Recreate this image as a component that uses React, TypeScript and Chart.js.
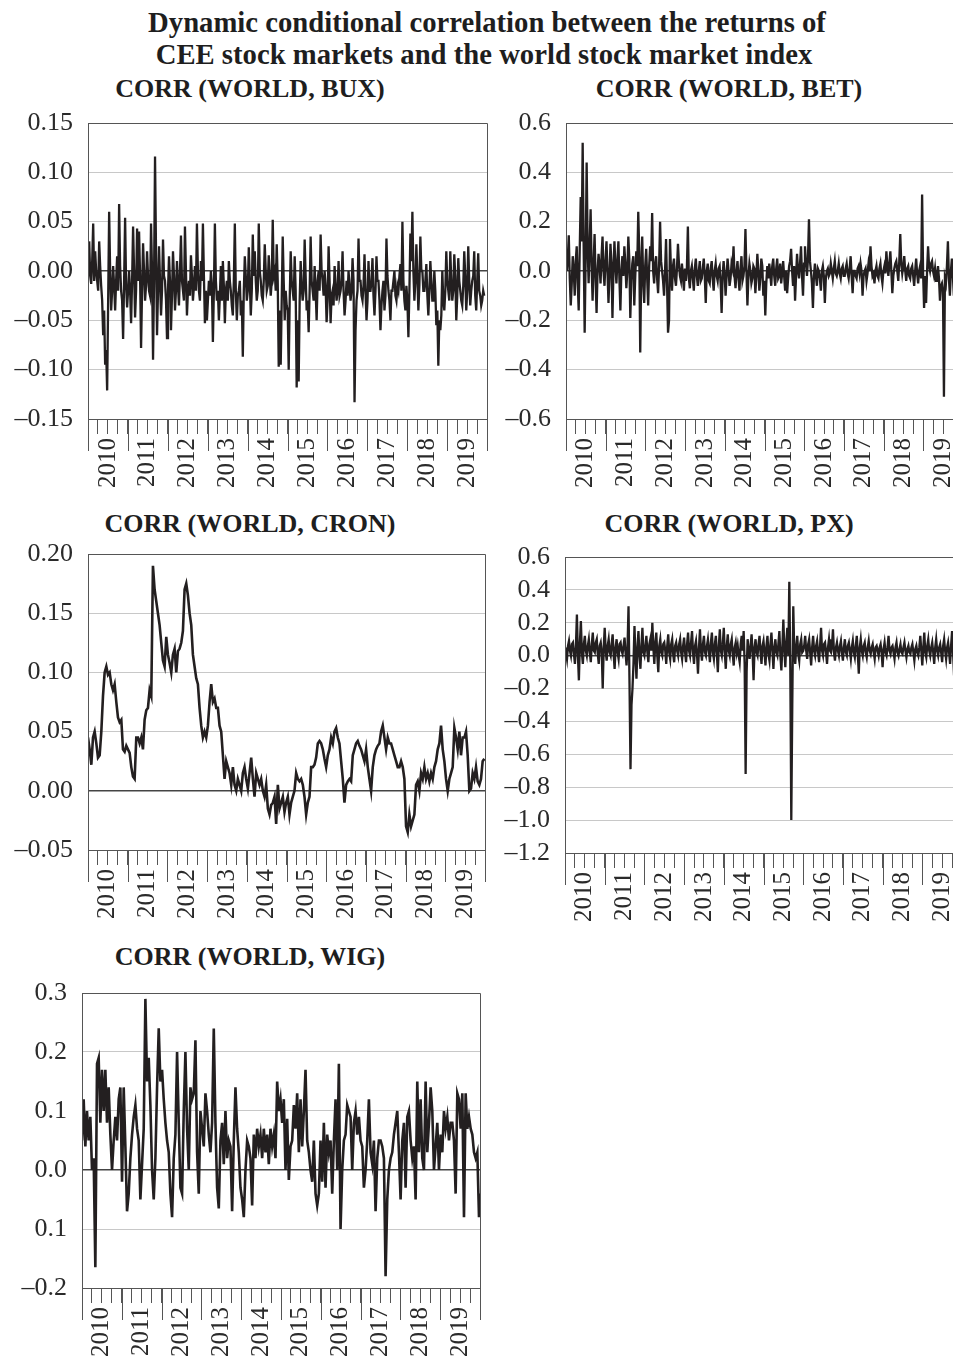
import React, { useEffect, useRef } from 'react';
import { Chart, registerables } from 'chart.js';

Chart.register(...registerables);

const FONT = '"Liberation Serif", "Times New Roman", serif';
const INK = '#231f20';
const TEXT = '#2a2a2a';
const AXIS = '#555555';
const GRID = '#c8c8c8';
const ZERO = '#444444';

// ---------------- data ----------------
const yearLabels = ['2010', '2011', '2012', '2013', '2014', '2015', '2016', '2017', '2018', '2019'];

// CORR (WORLD, BUX) – ~40 obs per year (one row per year)
const buxValues = [
  0.03, -0.005, -0.013, 0.01, 0.048, -0.01, 0.02, 0.0, -0.01, -0.02, 0.03, 0.005, -0.015, -0.03, -0.065, -0.04, -0.095, -0.08, -0.121, -0.03, 0.06, 0.0, -0.04, -0.02, 0.005, -0.015, -0.04, -0.01, 0.015, -0.02, 0.068, 0.005, -0.02, -0.03, -0.069, -0.01, 0.054, -0.015, -0.037, -0.02,
  0.0, -0.02, -0.053, -0.01, 0.045, 0.0, -0.047, -0.02, 0.043, -0.01, 0.04, -0.005, -0.078, -0.02, 0.028, 0.0, -0.03, -0.015, 0.02, -0.005, -0.02, -0.025, 0.048, 0.0, -0.09, -0.01, 0.116, 0.02, -0.065, -0.02, 0.025, -0.01, -0.045, -0.02, 0.032, -0.005, -0.01, -0.03, -0.068, -0.02,
  0.015, -0.01, -0.06, -0.025, 0.02, -0.005, -0.04, -0.02, 0.01, -0.015, -0.035, 0.0, 0.036, -0.01, -0.02, -0.03, 0.045, 0.0, -0.045, -0.02, -0.01, -0.025, 0.016, -0.005, -0.03, -0.015, 0.005, -0.02, 0.048, 0.0, -0.02, -0.03, 0.01, -0.01, 0.048, -0.005, -0.053, -0.02, -0.05, -0.03,
  -0.01, -0.025, 0.0, -0.015, -0.072, -0.02, 0.048, -0.01, -0.03, -0.02, -0.05, -0.025, 0.005, -0.03, 0.01, -0.015, -0.053, -0.02, -0.01, -0.03, 0.01, -0.01, -0.02, -0.035, -0.045, -0.01, 0.048, -0.02, -0.05, -0.025, -0.02, -0.01, -0.045, -0.03, -0.087, -0.02, 0.015, -0.005, -0.03, -0.02,
  0.024, -0.01, -0.045, -0.02, 0.037, -0.005, 0.02, -0.01, -0.03, -0.02, 0.048, 0.0, -0.01, -0.025, -0.03, -0.01, 0.027, 0.0, -0.02, -0.015, 0.016, -0.005, -0.025, -0.01, 0.052, -0.005, 0.0, -0.02, 0.027, -0.01, -0.097, -0.04, -0.095, -0.03, 0.035, -0.01, -0.05, -0.02, -0.035, -0.04,
  -0.1, -0.03, 0.02, -0.01, -0.02, -0.03, 0.015, -0.02, -0.118, -0.05, -0.112, -0.03, 0.01, -0.015, -0.03, -0.02, 0.032, -0.005, -0.04, -0.03, -0.062, -0.02, 0.035, -0.01, -0.02, -0.03, 0.005, -0.02, -0.05, -0.01, 0.0, -0.02, 0.037, 0.0, -0.01, -0.025, 0.0, -0.015, -0.052, -0.03,
  0.025, -0.01, -0.053, -0.025, -0.02, -0.035, 0.005, -0.015, -0.03, -0.02, 0.01, -0.025, -0.02, -0.01, 0.02, -0.02, -0.045, -0.03, -0.01, -0.025, 0.0, -0.015, -0.03, -0.02, 0.013, -0.01, -0.133, -0.06, -0.03, -0.02, 0.033, -0.01, -0.01, -0.025, -0.03, -0.015, 0.017, -0.02, -0.05, -0.03,
  0.01, -0.02, -0.02, -0.01, 0.013, -0.025, -0.045, -0.02, 0.015, -0.01, -0.01, -0.03, -0.06, -0.035, -0.02, -0.01, -0.04, -0.025, 0.033, -0.005, -0.02, -0.03, -0.05, -0.02, -0.02, -0.01, 0.0, -0.025, -0.03, -0.015, -0.02, -0.005, 0.007, -0.02, 0.05, -0.01, -0.03, -0.04, -0.015, -0.03,
  -0.067, -0.02, 0.038, 0.01, 0.06, 0.0, -0.03, -0.01, 0.027, -0.005, -0.04, -0.015, 0.035, 0.0, 0.0, -0.02, -0.02, -0.01, 0.007, -0.025, -0.045, -0.02, 0.01, -0.01, -0.03, -0.03, 0.0, -0.02, -0.055, -0.04, -0.096, -0.05, -0.06, -0.045, 0.0, -0.03, -0.04, -0.02, 0.02, -0.01,
  -0.02, -0.03, 0.02, -0.01, -0.03, -0.02, 0.017, -0.005, -0.05, -0.025, 0.013, -0.01, -0.02, -0.03, -0.035, -0.015, 0.02, -0.005, -0.04, -0.02, 0.025, -0.01, -0.035, -0.02, -0.01, -0.005, 0.02, -0.025, -0.04, -0.01, 0.018, -0.02, -0.025, -0.035, -0.03, -0.02, -0.025,
];

// CORR (WORLD, BET) – ~40 obs per year
const betValues = [
  0.0, 0.05, 0.145, -0.03, -0.14, -0.05, 0.06, 0.0, -0.1, 0.04, 0.1, -0.05, -0.16, 0.08, 0.3, 0.12, 0.52, 0.1, -0.25, 0.05, 0.44, 0.1, -0.05, 0.1, 0.25, 0.02, -0.12, 0.03, 0.15, -0.03, -0.17, 0.0, 0.07, 0.02, -0.05, 0.06, 0.14, 0.0, -0.06, 0.04,
  0.12, 0.0, -0.13, -0.02, 0.11, 0.03, -0.19, 0.0, 0.12, 0.02, -0.05, 0.04, 0.12, -0.03, -0.16, 0.0, 0.06, -0.02, 0.1, 0.03, -0.07, 0.0, 0.14, 0.05, -0.19, -0.04, 0.03, 0.06, -0.14, -0.02, 0.08, 0.02, 0.24, 0.08, -0.33, 0.0, 0.14, -0.05, -0.13, 0.02,
  0.09, -0.03, -0.14, 0.02, 0.1, 0.04, 0.235, 0.0, -0.05, 0.03, 0.06, -0.03, -0.09, 0.02, 0.2, 0.04, 0.0, -0.04, -0.1, 0.0, 0.13, -0.05, -0.25, -0.2, 0.13, 0.0, -0.08, 0.02, 0.05, -0.03, -0.06, 0.01, 0.11, 0.03, -0.02, -0.04, 0.03, -0.02, -0.08, 0.01,
  -0.04, 0.01, 0.18, -0.03, -0.07, 0.0, 0.02, -0.03, -0.08, 0.01, 0.05, -0.02, -0.06, 0.0, 0.04, -0.04, -0.03, 0.01, 0.05, -0.02, -0.13, 0.0, 0.03, -0.04, -0.05, 0.01, 0.04, -0.03, -0.08, 0.0, 0.03, -0.02, -0.04, 0.01, 0.02, -0.05, -0.17, -0.02, 0.04, -0.01,
  -0.1, -0.02, 0.05, 0.0, -0.06, -0.03, 0.03, 0.01, 0.1, -0.02, -0.07, 0.0, 0.04, -0.03, -0.08, 0.01, 0.06, -0.04, -0.02, 0.02, 0.17, 0.0, -0.14, -0.02, 0.03, 0.0, -0.05, -0.03, 0.02, 0.01, -0.09, -0.02, 0.07, 0.0, -0.08, -0.03, 0.05, 0.02, -0.1, -0.04,
  -0.18, -0.05, 0.02, -0.03, 0.03, -0.01, -0.06, 0.02, 0.05, -0.02, -0.06, 0.01, 0.05, -0.03, -0.02, 0.03, -0.05, -0.01, 0.04, -0.02, -0.08, 0.0, -0.09, -0.03, 0.02, 0.04, 0.09, 0.0, -0.06, 0.02, -0.12, -0.02, 0.07, 0.0, -0.03, 0.03, 0.1, -0.02, -0.1, 0.03,
  0.1, 0.03, -0.02, 0.05, 0.21, 0.04, 0.0, -0.05, -0.15, -0.02, 0.03, -0.02, -0.06, 0.01, 0.0, -0.03, -0.08, 0.0, 0.02, -0.02, -0.13, -0.03, 0.0, 0.01, -0.02, -0.01, 0.03, 0.0, -0.03, 0.01, 0.04, -0.01, -0.02, 0.0, 0.03, -0.01, -0.03, 0.01, 0.02, -0.02,
  -0.02, 0.01, 0.03, -0.01, -0.03, 0.01, 0.06, -0.02, -0.09, 0.0, 0.0, -0.02, -0.03, 0.01, 0.02, -0.01, 0.03, 0.0, -0.1, -0.02, 0.0, 0.01, -0.04, -0.01, 0.03, 0.0, 0.1, 0.02, -0.02, -0.01, -0.05, 0.0, 0.02, -0.02, -0.03, 0.01, 0.03, -0.02, -0.05, 0.0,
  0.02, -0.01, 0.08, 0.02, -0.02, 0.03, 0.08, 0.0, -0.09, -0.02, 0.01, 0.03, 0.04, 0.0, -0.04, 0.04, 0.15, 0.03, -0.01, 0.02, 0.06, 0.0, -0.04, 0.01, 0.02, -0.02, -0.03, 0.01, 0.02, -0.02, -0.06, 0.0, 0.05, -0.01, -0.05, 0.0, 0.02, -0.03, 0.31, -0.01,
  -0.15, -0.02, -0.13, 0.0, 0.1, 0.02, 0.0, 0.03, 0.04, 0.0, -0.02, 0.01, -0.04, -0.02, 0.02, -0.03, -0.12, -0.06, -0.05, -0.08, -0.51, -0.03, -0.05, 0.02, 0.12, -0.03, -0.1, 0.0, 0.05, -0.02, -0.1, 0.0, 0.04, -0.02, -0.08,
];

// CORR (WORLD, CRON) – ~24 obs per year
const cronValues = [
  0.045, 0.035, 0.022, 0.045, 0.05, 0.04, 0.028, 0.03, 0.05, 0.08, 0.1, 0.105, 0.098, 0.1, 0.09, 0.085, 0.09, 0.075, 0.062, 0.058,
  0.06, 0.035, 0.033, 0.038, 0.035, 0.032, 0.02, 0.012, 0.01, 0.045, 0.045, 0.04, 0.045, 0.035, 0.06, 0.068, 0.07, 0.085, 0.08, 0.19,
  0.17, 0.16, 0.15, 0.14, 0.125, 0.11, 0.105, 0.13, 0.115, 0.108, 0.1, 0.115, 0.12, 0.1, 0.118, 0.12, 0.125, 0.135, 0.17, 0.175,
  0.165, 0.15, 0.14, 0.115, 0.105, 0.095, 0.09, 0.07, 0.055, 0.045, 0.05, 0.045, 0.055, 0.075, 0.09, 0.075, 0.078, 0.07, 0.07, 0.055,
  0.05, 0.03, 0.01, 0.025, 0.02, 0.015, 0.005, 0.02, 0.005, 0.0, 0.01, 0.005, 0.0, 0.015, 0.02, 0.01, 0.002, 0.015, 0.028, 0.01,
  -0.005, 0.015, 0.01, 0.005, 0.01, 0.0, -0.005, 0.005, -0.015, -0.02, -0.012, -0.01, -0.005, -0.028, 0.005, -0.015, -0.01, -0.005, -0.018, -0.01,
  -0.005, -0.02, -0.01, -0.005, 0.0, 0.015, 0.01, 0.008, 0.01, 0.005, -0.005, -0.02, -0.01, -0.005, 0.02, 0.02, 0.022, 0.028, 0.04, 0.042,
  0.04, 0.035, 0.027, 0.02, 0.03, 0.035, 0.045, 0.04, 0.05, 0.053, 0.045, 0.04, 0.025, 0.01, -0.01, 0.005, 0.008, 0.01, 0.008, 0.03,
  0.035, 0.04, 0.042, 0.038, 0.035, 0.03, 0.025, 0.035, 0.02, 0.01, 0.0, 0.02, 0.03, 0.035, 0.038, 0.04, 0.05, 0.055, 0.045, 0.035,
  0.045, 0.04, 0.04, 0.035, 0.03, 0.025, 0.02, 0.02, 0.025, 0.02, 0.01, -0.03, -0.035, -0.02, -0.03, -0.025, -0.02, 0.005, 0.008, 0.0,
  0.015, 0.01, 0.02, 0.01, 0.015, 0.008, 0.015, 0.01, 0.02, 0.025, 0.035, 0.04, 0.055, 0.035, 0.025, 0.01, 0.0, 0.01, 0.015, 0.02,
  0.053, 0.045, 0.035, 0.05, 0.03, 0.045, 0.045, 0.05, 0.03, 0.0, 0.002, 0.015, 0.01, 0.02, 0.008, 0.005, 0.01, 0.025, 0.027,
];

// CORR (WORLD, PX) – ~40 obs per year
const pxValues = [
  0.05, 0.02, -0.02, 0.06, 0.09, 0.03, 0.0, 0.07, 0.08, 0.01, -0.05, 0.06, 0.25, 0.0, -0.15, 0.08, 0.21, 0.02, -0.05, 0.07, 0.12, 0.03, 0.0, 0.06, 0.1, 0.02, -0.04, 0.07, 0.14, 0.03, 0.02, 0.08, 0.1, 0.01, -0.05, 0.06, 0.08, 0.02, -0.2, 0.05,
  0.17, 0.03, -0.03, 0.06, 0.1, 0.02, 0.0, 0.07, 0.13, 0.01, -0.08, 0.05, 0.1, 0.02, -0.02, 0.07, 0.08, 0.03, 0.01, 0.06, 0.11, 0.02, -0.06, 0.05, 0.3, -0.17, -0.69, -0.3, -0.2, -0.05, 0.18, 0.0, -0.14, 0.05, 0.15, 0.0, -0.08, 0.06, 0.17, 0.02,
  0.0, 0.06, 0.12, 0.02, -0.04, 0.07, 0.1, 0.03, 0.2, 0.05, -0.05, 0.08, 0.14, 0.0, -0.1, 0.06, 0.1, 0.02, 0.0, 0.07, 0.08, 0.03, -0.05, 0.06, 0.13, 0.02, -0.02, 0.07, 0.1, 0.01, -0.04, 0.06, 0.08, 0.03, 0.0, 0.07, 0.1, 0.02, -0.02, 0.06,
  0.11, 0.02, -0.04, 0.07, 0.14, 0.03, 0.0, 0.08, 0.15, 0.02, -0.05, 0.06, 0.09, 0.01, -0.11, 0.05, 0.16, 0.03, -0.03, 0.07, 0.12, 0.02, 0.0, 0.06, 0.1, 0.03, -0.04, 0.08, 0.14, 0.02, -0.02, 0.07, 0.12, 0.01, -0.1, 0.06, 0.16, 0.03, 0.0, 0.07,
  0.17, 0.02, -0.08, 0.06, 0.13, 0.03, 0.0, 0.07, 0.1, 0.01, -0.06, 0.05, 0.08, 0.02, 0.06, 0.0, -0.04, 0.07, 0.12, 0.03, 0.15, -0.05, -0.72, -0.1, 0.1, 0.03, -0.02, 0.06, 0.13, 0.02, -0.15, 0.05, 0.1, 0.02, 0.0, 0.07, 0.12, 0.02, -0.05, 0.06,
  0.09, 0.02, -0.06, 0.06, 0.12, 0.01, -0.03, 0.07, 0.14, 0.03, -0.08, 0.05, 0.1, 0.02, 0.0, 0.07, 0.15, 0.0, -0.09, 0.05, 0.22, 0.04, -0.07, 0.08, 0.17, 0.0, 0.45, -0.07, -1.0, -0.3, 0.3, 0.02, -0.05, 0.06, 0.12, 0.01, -0.03, 0.07, 0.1, 0.02,
  0.03, 0.06, 0.12, 0.03, -0.02, 0.07, 0.1, 0.02, -0.06, 0.05, 0.12, 0.03, 0.0, 0.06, 0.09, 0.02, -0.04, 0.06, 0.17, 0.03, 0.0, 0.07, 0.08, 0.02, -0.05, 0.05, 0.1, 0.03, 0.02, 0.06, 0.16, 0.02, -0.03, 0.05, 0.08, 0.03, 0.0, 0.06, 0.09, 0.02,
  -0.03, 0.05, 0.1, 0.02, 0.0, 0.06, 0.08, 0.03, -0.02, 0.05, 0.09, 0.02, -0.01, 0.06, 0.12, 0.01, -0.11, 0.05, 0.1, 0.03, 0.0, 0.06, 0.08, 0.02, -0.01, 0.05, 0.09, 0.03, 0.01, 0.05, 0.07, 0.02, -0.02, 0.05, 0.06, 0.03, 0.0, 0.05, 0.07, 0.02,
  -0.07, 0.04, 0.08, 0.02, 0.0, 0.05, 0.12, 0.03, 0.01, 0.05, 0.06, 0.02, -0.02, 0.05, 0.08, 0.02, 0.0, 0.04, 0.07, 0.02, 0.01, 0.05, 0.08, 0.03, -0.01, 0.04, 0.06, 0.02, 0.01, 0.05, 0.07, 0.02, -0.03, 0.04, 0.06, 0.02, 0.0, 0.05, 0.12, 0.03,
  -0.06, 0.05, 0.14, 0.02, -0.01, 0.06, 0.1, 0.03, 0.0, 0.05, 0.08, 0.02, -0.05, 0.05, 0.1, 0.03, 0.0, 0.05, 0.07, 0.02, -0.04, 0.06, 0.1, 0.03, -0.02, 0.05, 0.08, 0.02, -0.05, 0.06, 0.15, 0.02, -0.12, 0.05, 0.04,
];

// CORR (WORLD, WIG) – ~24 obs per year
const wigValues = [
  0.05, 0.12, 0.04, 0.1, 0.05, 0.09, 0.0, 0.02, -0.165, 0.18, 0.19, 0.08, 0.17, 0.1, 0.17, 0.08, 0.14, 0.06, 0.0, 0.05,
  0.09, 0.05, 0.12, 0.14, -0.02, 0.14, 0.04, -0.07, -0.04, 0.02, 0.06, 0.09, 0.11, 0.07, 0.05, -0.05, 0.01, 0.07, 0.29, 0.15,
  0.19, 0.11, 0.0, -0.05, 0.02, 0.14, 0.24, 0.15, 0.17, 0.12, 0.08, 0.05, 0.03, -0.04, -0.08, 0.02, 0.06, 0.2, 0.08, -0.03,
  -0.04, 0.1, 0.2, 0.07, 0.0, 0.14, 0.12, 0.13, 0.22, 0.03, -0.04, 0.1, 0.07, 0.04, 0.13, 0.1, 0.06, 0.03, 0.08, 0.24,
  0.08, -0.03, -0.065, 0.05, 0.08, 0.01, 0.1, 0.02, 0.05, 0.04, -0.07, 0.05, 0.14, 0.07, 0.03, -0.03, -0.05, -0.08, 0.0, 0.05,
  0.04, 0.02, -0.06, 0.06, 0.02, 0.07, 0.04, 0.06, 0.02, 0.07, 0.03, 0.06, 0.01, 0.07, 0.04, 0.06, 0.02, 0.15, 0.1, 0.12,
  0.08, 0.12, 0.0, 0.087, -0.017, 0.04, 0.05, 0.11, 0.07, 0.13, 0.03, 0.12, 0.04, 0.1, 0.17, 0.05, 0.03, 0.0, -0.02, 0.05,
  -0.04, -0.06, -0.04, 0.05, -0.02, 0.08, -0.03, 0.06, 0.03, 0.05, -0.04, 0.05, 0.12, 0.0, 0.18, -0.1, 0.0, 0.05, 0.06, 0.11,
  0.1, 0.09, 0.0, 0.08, 0.1, 0.06, 0.09, 0.05, 0.04, -0.03, 0.0, 0.05, 0.12, 0.03, 0.01, 0.05, -0.07, 0.02, 0.05, 0.05,
  0.04, 0.02, -0.18, -0.05, 0.0, 0.02, 0.03, 0.06, 0.08, 0.1, 0.03, -0.05, 0.05, 0.08, -0.03, 0.09, 0.1, 0.05, 0.02, 0.04,
  -0.05, 0.15, 0.03, 0.12, 0.02, 0.0, 0.15, 0.03, 0.08, 0.14, 0.1, 0.0, 0.04, 0.08, 0.0, 0.06, 0.03, 0.1, 0.07, 0.09,
  0.05, 0.08, 0.08, 0.05, -0.04, 0.13, 0.12, 0.07, 0.13, -0.08, 0.13, 0.07, 0.09, 0.07, 0.06, 0.03, 0.02, 0.03, -0.08, -0.04,
];

// y-axis ticks and their printed labels
const buxTicks = [-0.15, -0.1, -0.05, 0, 0.05, 0.1, 0.15];
const buxTickLabels = ['\u20130.15', '\u20130.10', '\u20130.05', '0.00', '0.05', '0.10', '0.15'];
const betTicks = [-0.6, -0.4, -0.2, 0, 0.2, 0.4, 0.6];
const betTickLabels = ['\u20130.6', '\u20130.4', '\u20130.2', '0.0', '0.2', '0.4', '0.6'];
const cronTicks = [-0.05, 0, 0.05, 0.1, 0.15, 0.2];
const cronTickLabels = ['\u20130.05', '0.00', '0.05', '0.10', '0.15', '0.20'];
const pxTicks = [-1.2, -1.0, -0.8, -0.6, -0.4, -0.2, 0, 0.2, 0.4, 0.6];
const pxTickLabels = ['\u20131.2', '\u20131.0', '\u20130.8', '\u20130.6', '\u20130.4', '\u20130.2', '0.0', '0.2', '0.4', '0.6'];
const wigTicks = [-0.2, -0.1, 0, 0.1, 0.2, 0.3];
const wigTickLabels = ['\u20130.2', '0.1', '0.0', '0.1', '0.2', '0.3'];

// observation calendars (start year, step in years)
const buxStart = 2010.03, buxStep = 0.025;
const betStart = 2010.02, betStep = 0.025;
const pxStart = 2010.0, pxStep = 0.025;
const cronStart = 2010.0, cronStep = 5 / 119.2;
const wigStart = 2010.0, wigStep = 5 / 119.3;

// ---------------- chart ----------------
const Y_AXIS_W = 88;
const PAD_TOP = 20;
const PAD_RIGHT = 12;
const X_AXIS_H = 90;

const framePlugin = {
  id: 'frame',
  afterDraw(chart: any) {
    const { ctx, chartArea: a, scales } = chart;
    ctx.save();
    ctx.strokeStyle = AXIS;
    ctx.lineWidth = 1;
    ctx.beginPath();
    ctx.rect(Math.round(a.left) + 0.5, Math.round(a.top) + 0.5, Math.round(a.right - a.left), Math.round(a.bottom - a.top));
    for (let y = 2010; y <= 2020; y++) {
      const x = Math.round(scales.x.getPixelForValue(y)) + 0.5;
      ctx.moveTo(x, a.bottom);
      ctx.lineTo(x, a.bottom + 32);
    }
    ctx.stroke();
    ctx.restore();
  },
};

type PanelProps = {
  values: number[];
  start: number;
  step: number;
  ticks: number[];
  tickLabels: string[];
  left: number;
  top: number;
  width: number;
  height: number;
  lineWidth: number;
};

function Panel({ values, start, step, ticks, tickLabels, left, top, width, height, lineWidth }: PanelProps) {
  const ref = useRef<HTMLCanvasElement | null>(null);
  const cw = width + Y_AXIS_W + PAD_RIGHT;
  const ch = height + PAD_TOP + X_AXIS_H;
  useEffect(() => {
    if (!ref.current) return;
    const chart = new Chart(ref.current, {
      type: 'line',
      data: {
        datasets: [
          {
            data: values.map((v, i) => ({ x: start + i * step, y: v })),
            borderColor: INK,
            borderWidth: lineWidth,
            borderJoinStyle: 'miter',
            pointRadius: 0,
            tension: 0,
            fill: false,
          },
        ],
      },
      options: {
        animation: false,
        responsive: false,
        maintainAspectRatio: false,
        events: [],
        layout: { padding: { left: 0, right: PAD_RIGHT, top: PAD_TOP, bottom: 0 } },
        plugins: { legend: { display: false }, tooltip: { enabled: false }, title: { display: false } },
        scales: {
          x: {
            type: 'linear',
            min: 2010,
            max: 2020,
            afterBuildTicks: (s: any) => {
              s.ticks = Array.from({ length: 41 }, (_, q) => ({ value: 2010 + q / 4 }));
            },
            afterFit: (s: any) => {
              s.height = X_AXIS_H;
              s.paddingLeft = 0;
              s.paddingRight = 0;
              s.paddingTop = 0;
              s.paddingBottom = 0;
            },
            ticks: {
              autoSkip: false,
              minRotation: 90,
              maxRotation: 90,
              padding: 4,
              color: TEXT,
              font: { family: FONT, size: 25 },
              callback: (_v: any, i: number) => (i % 4 === 2 ? yearLabels[(i - 2) / 4] : ''),
            },
            grid: { drawOnChartArea: false, tickLength: 15, color: AXIS, lineWidth: 1 },
            border: { color: AXIS, width: 1 },
          },
          y: {
            type: 'linear',
            min: ticks[0],
            max: ticks[ticks.length - 1],
            afterBuildTicks: (s: any) => {
              s.ticks = ticks.map((v) => ({ value: v }));
            },
            afterFit: (s: any) => {
              s.width = Y_AXIS_W;
              s.paddingLeft = 0;
              s.paddingRight = 0;
              s.paddingTop = 0;
              s.paddingBottom = 0;
            },
            ticks: {
              autoSkip: false,
              padding: 15,
              color: TEXT,
              font: { family: FONT, size: 26 },
              callback: (_v: any, i: number) => tickLabels[i],
            },
            grid: {
              drawTicks: false,
              color: (c: any) => (c.tick && Math.abs(c.tick.value) < 1e-9 ? ZERO : GRID),
              lineWidth: (c: any) => (c.tick && Math.abs(c.tick.value) < 1e-9 ? 1.5 : 1),
            },
            border: { color: AXIS, width: 1 },
          },
        },
      } as any,
      plugins: [framePlugin],
    });
    return () => chart.destroy();
  }, []);
  return (
    <canvas
      ref={ref}
      width={cw}
      height={ch}
      style={{ position: 'absolute', left: left - Y_AXIS_W, top: top - PAD_TOP, width: cw, height: ch }}
    />
  );
}

const titleStyle: React.CSSProperties = {
  position: 'absolute',
  fontFamily: FONT,
  color: '#1e1e1e',
  whiteSpace: 'nowrap',
  transform: 'translateX(-50%)',
  lineHeight: 1,
  fontWeight: 'bold',
};

function Label({ text, x, top, size }: { text: string; x: number; top: number; size: number }) {
  return <div style={{ ...titleStyle, left: x, top, fontSize: size }}>{text}</div>;
}

export default function App() {
  return (
    <div style={{ position: 'absolute', left: 0, top: 0, width: 953, height: 1359, overflow: 'hidden', background: '#fff' }}>
      <Label text="Dynamic conditional correlation between the returns of" x={487} top={8} size={28.7} />
      <Label text="CEE stock markets and the world stock market index" x={484} top={40} size={28.7} />
      <Label text="CORR (WORLD, BUX)" x={250} top={76} size={26} />
      <Label text="CORR (WORLD, BET)" x={729} top={76} size={26} />
      <Label text="CORR (WORLD, CRON)" x={250} top={511} size={26} />
      <Label text="CORR (WORLD, PX)" x={729} top={511} size={26} />
      <Label text="CORR (WORLD, WIG)" x={250} top={944} size={26} />

      <Panel values={buxValues} start={buxStart} step={buxStep} ticks={buxTicks} tickLabels={buxTickLabels} left={88} top={123} width={399} height={296} lineWidth={2.3} />
      <Panel values={betValues} start={betStart} step={betStep} ticks={betTicks} tickLabels={betTickLabels} left={566} top={123} width={397} height={296} lineWidth={2.3} />
      <Panel values={cronValues} start={cronStart} step={cronStep} ticks={cronTicks} tickLabels={cronTickLabels} left={88} top={554} width={397} height={296} lineWidth={2.6} />
      <Panel values={pxValues} start={pxStart} step={pxStep} ticks={pxTicks} tickLabels={pxTickLabels} left={565} top={557} width={397} height={296} lineWidth={2.3} />
      <Panel values={wigValues} start={wigStart} step={wigStep} ticks={wigTicks} tickLabels={wigTickLabels} left={82} top={993} width={398} height={295} lineWidth={2.6} />
    </div>
  );
}
